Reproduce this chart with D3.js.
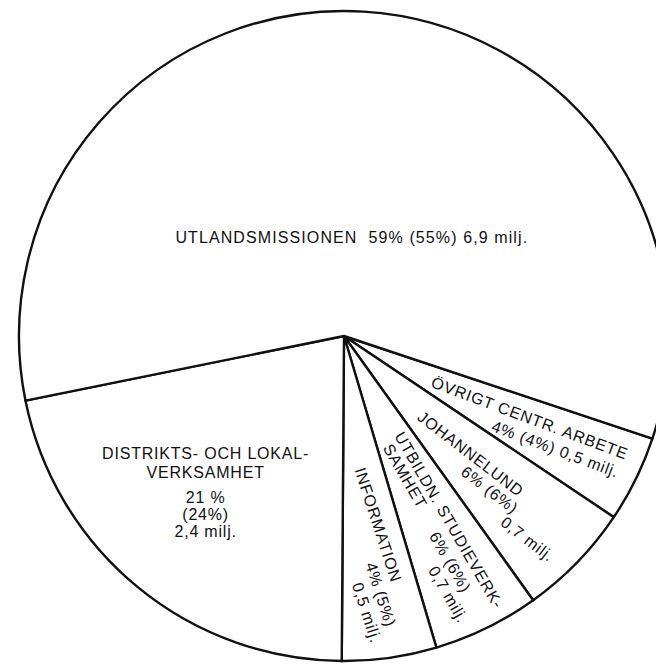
<!DOCTYPE html>
<html>
<head>
<meta charset="utf-8">
<script src="https://cdn.jsdelivr.net/npm/d3@7"></script>
<style>
  body { margin: 0; background: #fff; }
  text { font-family: "Liberation Sans", Arial, Helvetica, sans-serif; fill: #111; white-space: pre; }
</style>
</head>
<body>
<div id="chart"></div>
<script>
// Slices, clockwise starting at the small "ÖVRIGT" wedge (right side)
const names = ["ÖVRIGT", "JOHANNELUND", "UTBILDN", "INFORMATION", "DISTRIKTS", "UTLANDS"];
// wedge sizes as drawn in the picture (% of the circle), labels say 4/6/6/4/21/59
const shares = [4.3, 5.7, 5.3, 4.7, 21.7, 58.3];
const labelLines = [
  ["ÖVRIGT CENTR. ARBETE", "4% (4%) 0,5 milj."],
  ["JOHANNELUND", "6% (6%)", "0,7 milj."],
  ["UTBILDN. STUDIEVERK-", "SAMHET", "6% (6%)", "0,7 milj."],
  ["INFORMATION", "4% (5%)", "0,5 milj."],
  ["DISTRIKTS- OCH LOKAL-", "VERKSAMHET", "21 %", "(24%)", "2,4 milj."],
  ["UTLANDSMISSIONEN  59% (55%) 6,9 milj."]
];

const width = 656, height = 664;
const cx = 344, cy = 336, radius = 325;
const startDeg = 108.4;

// label placement: distance from centre, angle shift from slice middle (deg),
// text rotation (deg) and per-line offsets [along, across]
const layout = {
  "ÖVRIGT":      { r: 203, da: -2.35, rot: 20.5, off: [[0, 0], [35, 20]] },
  "JOHANNELUND": { r: 173, da: -1.25, rot: 37.5, off: [[0, 0], [37, 17], [97, 33]] },
  "UTBILDN":     { r: 212, da: -3.7,  rot: 60,   off: [[0, 0], [-60, 16], [37, 20], [64, 38]] },
  "INFORMATION": { r: 192, da: -2.25, rot: 72,   off: [[0, 0], [67, 19], [80, 38]] },
  "DISTRIKTS":   { r: 205, da: 3.0,   rot: 0,    off: [[0, -34], [0, -15], [0, 10], [0, 27], [0, 44]] },
  "UTLANDS":     { r: 99,  da: 1.05,  rot: 0,    off: [[0, 0]] }
};

const svg = d3.select("#chart")
  .append("svg")
  .attr("width", width)
  .attr("height", height);

const pie = d3.pie()
  .sort(null)
  .value(d => d)
  .startAngle(startDeg * Math.PI / 180)
  .endAngle(startDeg * Math.PI / 180 + 2 * Math.PI);

const arcs = pie(shares);

const arc = d3.arc()
  .innerRadius(0)
  .outerRadius(radius);

const g = svg.append("g")
  .attr("transform", `translate(${cx},${cy})`);

g.selectAll("path")
  .data(arcs)
  .join("path")
  .attr("d", arc)
  .attr("fill", "#fff")
  .attr("stroke", "#111")
  .attr("stroke-width", 2.4)
  .attr("stroke-linejoin", "round");

// labels
const labels = g.selectAll("g.label")
  .data(arcs)
  .join("g")
  .attr("class", "label")
  .attr("transform", (d, i) => {
    const L = layout[names[i]];
    const a = (d.startAngle + d.endAngle) / 2 + L.da * Math.PI / 180;
    const x = L.r * Math.sin(a);
    const y = -L.r * Math.cos(a);
    return `translate(${x},${y}) rotate(${L.rot})`;
  });

labels.each(function(d, i) {
  const L = layout[names[i]];
  d3.select(this).selectAll("text")
    .data(labelLines[i])
    .join("text")
    .attr("x", (t, j) => L.off[j][0])
    .attr("y", (t, j) => L.off[j][1])
    .attr("dy", "0.36em")
    .attr("text-anchor", "middle")
    .attr("font-size", 16)
    .attr("letter-spacing", names[i] === "UTLANDS" ? 1.1 : 0.8)
    .text(t => t);
});
</script>
</body>
</html>
